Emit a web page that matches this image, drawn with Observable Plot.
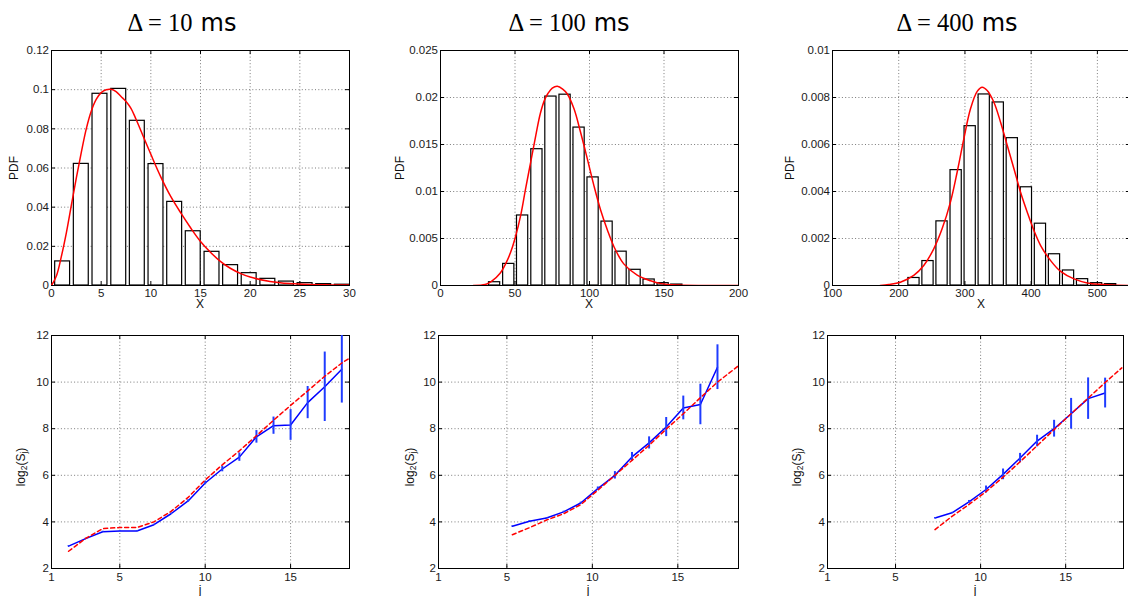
<!DOCTYPE html>
<html><head><meta charset="utf-8">
<script src="https://cdn.jsdelivr.net/npm/d3@7"></script>
<script src="https://cdn.jsdelivr.net/npm/@observablehq/plot@0.6"></script>
<style>
html,body{margin:0;padding:0;background:#fff;overflow:hidden;}
#root{position:relative;width:1128px;height:596px;overflow:hidden;font-family:"Liberation Sans",Arial,Helvetica,sans-serif;color:#111;}
.title{position:absolute;white-space:nowrap;transform:translate(-50%,0);line-height:30px;color:#000;}
.title .m{font-family:"Liberation Serif","Times New Roman",serif;font-size:24.5px;}
.title .u{font-family:"DejaVu Sans",sans-serif;font-size:24px;margin-left:8px;}
.lab{position:absolute;font-size:12px;line-height:14px;white-space:nowrap;color:#111;}
.lab.j{line-height:12px;}
.lab sub{font-size:8.5px;vertical-align:-2px;line-height:0;}
</style></head><body><div id="root"></div><script>
// ---------- data ----------
const titleValues = ["10", "100", "400"];
const titleUnit = "ms";

// histograms (bin centers, PDF heights)
const hist10Centers = [1.12, 3.0, 4.88, 6.77, 8.64, 10.52, 12.4, 14.27, 16.16, 18.03, 19.9, 21.78, 23.65, 25.53, 27.4, 29.28];
const hist10Values  = [0.0123, 0.0621, 0.0979, 0.1004, 0.0841, 0.0620, 0.0427, 0.0277, 0.0172, 0.0104, 0.0063, 0.0034, 0.0020, 0.0012, 0.0007, 0.0004];
const hist100Centers = [36.3, 45.8, 55.1, 64.7, 74.1, 83.6, 93.0, 102.4, 111.8, 121.2, 130.6, 140.0, 149.4, 158.6];
const hist100Values  = [0.00035, 0.0023, 0.00745, 0.0145, 0.0201, 0.0203, 0.0168, 0.0115, 0.0068, 0.0036, 0.00167, 0.00064, 0.00025, 0.0001];
const hist400Centers = [223.0, 244.2, 265.4, 286.7, 307.9, 329.1, 350.3, 371.5, 392.8, 414.0, 435.2, 456.4, 477.6, 498.8, 520.0];
const hist400Values  = [0.00032, 0.00104, 0.00273, 0.00491, 0.00678, 0.00813, 0.00779, 0.00627, 0.00418, 0.00263, 0.00133, 0.00064, 0.00027, 0.0001, 0.00006];

// fitted PDF curves
const pdf10X = [0, 0.5, 1, 1.5, 2, 2.5, 3, 3.5, 4, 4.5, 5, 5.5, 6, 6.5, 7, 7.5, 8, 8.5, 9, 10, 11, 12, 13, 14, 15, 16, 17, 18, 19, 20, 22, 24, 26, 28, 30];
const pdf10Y = [0, 0.005, 0.015, 0.027, 0.041, 0.055, 0.068, 0.080, 0.089, 0.095, 0.0985, 0.1, 0.1002, 0.099, 0.0965, 0.094, 0.0905, 0.085, 0.079, 0.067, 0.0555, 0.0455, 0.0372, 0.0295, 0.0225, 0.017, 0.0123, 0.0088, 0.0062, 0.0043, 0.0021, 0.001, 0.0005, 0.0003, 0.0002];
const pdf100X = [22, 30, 34, 40, 44, 47, 50, 54, 57, 60.5, 64, 67, 70, 72, 75, 78.4, 82, 85, 89.6, 94, 98.5, 103, 107.5, 112, 116.5, 123, 132, 141, 148, 160, 175, 200];
const pdf100Y = [0, 0.0001, 0.0004, 0.0013, 0.0024, 0.0035, 0.0050, 0.0076, 0.0102, 0.0131, 0.016, 0.0183, 0.0198, 0.0204, 0.0210, 0.0212, 0.0209, 0.0204, 0.0188, 0.0163, 0.0135, 0.0106, 0.008, 0.0059, 0.0041, 0.0023, 0.0011, 0.0005, 0.0002, 0.00005, 0, 0];
const pdf400X = [172, 185, 202.5, 222.7, 237.8, 252.9, 265.5, 278.1, 288.2, 298.3, 308.4, 318.5, 326, 333.6, 343.7, 353.8, 363.9, 374, 384, 394.1, 404.2, 414.3, 429.4, 444.5, 464.7, 484.8, 515, 550];
const pdf400Y = [0, 0.00004, 0.00014, 0.00043, 0.00085, 0.00156, 0.00241, 0.00355, 0.00482, 0.00624, 0.00752, 0.00826, 0.00844, 0.0083, 0.0078, 0.00695, 0.00596, 0.00497, 0.00397, 0.00312, 0.00234, 0.0017, 0.00106, 0.0006, 0.00028, 0.00011, 0.00003, 0];

// log-scale diagram: octave j, log2(S_j), error half-length, and fit
const j10 = [2, 3, 4, 5, 6, 7, 8, 9, 10, 11, 12, 13, 14, 15, 16, 17, 18];
const logS10 = [2.96, 3.28, 3.58, 3.61, 3.61, 3.88, 4.35, 4.9, 5.67, 6.27, 6.78, 7.65, 8.13, 8.16, 9.12, 9.8, 10.55];
const err10 = [0.02, 0.02, 0.02, 0.02, 0.02, 0.02, 0.03, 0.05, 0.07, 0.12, 0.18, 0.27, 0.37, 0.66, 0.69, 1.49, 1.45];
const fit10X = [2, 3, 4, 5, 6, 7, 8, 9, 10, 11, 12, 13, 14, 15, 16, 17, 18, 18.4];
const fit10Y = [2.74, 3.29, 3.71, 3.76, 3.76, 4.0, 4.45, 5.05, 5.8, 6.45, 7.05, 7.7, 8.36, 9.0, 9.62, 10.25, 10.82, 11.0];

const j100 = [5.32, 6.32, 7.32, 8.32, 9.32, 10.32, 11.32, 12.32, 13.32, 14.32, 15.32, 16.32, 17.32];
const logS100 = [3.81, 4.03, 4.17, 4.43, 4.81, 5.43, 6.0, 6.79, 7.39, 8.07, 8.89, 9.04, 10.64];
const err100 = [0.02, 0.02, 0.02, 0.03, 0.04, 0.07, 0.16, 0.19, 0.26, 0.41, 0.51, 0.87, 0.96];
const fit100X = [5.32, 6.32, 7.32, 8.32, 9.32, 10.32, 11.32, 12.32, 13.32, 14.32, 15.32, 16.32, 17.32, 18.55];
const fit100Y = [3.45, 3.75, 4.08, 4.35, 4.74, 5.36, 6.0, 6.64, 7.29, 7.98, 8.64, 9.33, 10.0, 10.7];

const j400 = [7.32, 8.32, 9.32, 10.32, 11.32, 12.32, 13.32, 14.32, 15.32, 16.32, 17.32];
const logS400 = [4.17, 4.39, 4.86, 5.39, 6.04, 6.74, 7.47, 8.0, 8.64, 9.29, 9.53];
const err400 = [0.02, 0.02, 0.06, 0.15, 0.23, 0.2, 0.25, 0.36, 0.66, 0.89, 0.64];
const fit400X = [7.32, 8.32, 9.32, 10.32, 11.32, 12.32, 13.32, 14.32, 15.32, 16.32, 17.32, 18.3];
const fit400Y = [3.67, 4.24, 4.75, 5.3, 5.92, 6.58, 7.27, 7.96, 8.64, 9.31, 9.98, 10.61];

// tick labels
const xTicks10 = [0, 5, 10, 15, 20, 25, 30];
const yTicks10 = [0, 0.02, 0.04, 0.06, 0.08, 0.1, 0.12];
const xTicks100 = [0, 50, 100, 150, 200];
const yTicks100 = [0, 0.005, 0.01, 0.015, 0.02, 0.025];
const xTicks400 = [100, 200, 300, 400, 500];
const yTicks400 = [0, 0.002, 0.004, 0.006, 0.008, 0.01];
const jTicks = [1, 5, 10, 15];
const logTicks = [2, 4, 6, 8, 10, 12];

// ---------- drawing ----------
const root = document.getElementById("root");
const fmt = d => String(+(+d).toFixed(6));
const FONT = "'Liberation Sans', Arial, Helvetica, sans-serif";

function matlabAxes(xTicks, yTicks, fw, fh, xPad) {
  const grid = {stroke: "#7a7a7a", strokeOpacity: 1, strokeWidth: 1, strokeDasharray: "1,2.3"};
  return {
    grid: [Plot.gridX(xTicks, grid), Plot.gridY(yTicks, grid)],
    axes: [
      Plot.axisX(xTicks, {anchor: "bottom", tickSize: 0, tickPadding: xPad, tickFormat: fmt, label: null, fill: "#1a1a1a"}),
      Plot.axisY(yTicks, {anchor: "left", tickSize: 0, tickPadding: 2.5, tickFormat: fmt, label: null, fill: "#1a1a1a"}),
      Plot.ruleX(xTicks, {insetTop: fh - 4, stroke: "#000"}),
      Plot.ruleX(xTicks, {insetBottom: fh - 4, stroke: "#000"}),
      Plot.ruleY(yTicks, {insetRight: fw - 4, stroke: "#000"}),
      Plot.ruleY(yTicks, {insetLeft: fw - 4, stroke: "#000"}),
      Plot.frame({stroke: "#000", strokeWidth: 1})
    ]
  };
}

function histPanel(c) {
  const step = (c.centers[c.centers.length - 1] - c.centers[0]) / (c.centers.length - 1);
  const half = 0.4 * step;
  const bars = c.centers.map((x, i) => ({x1: x - half, x2: x + half, y: c.values[i]}));
  const curve = c.curveX.map((x, i) => ({x, y: c.curveY[i]}));
  const ax = matlabAxes(c.xTicks, c.yTicks, c.fw, c.fh, 3.5);
  return Plot.plot({
    width: c.ml + c.fw + c.mr, height: c.mt + c.fh + c.mb,
    marginLeft: c.ml, marginRight: c.mr, marginTop: c.mt, marginBottom: c.mb,
    x: {domain: c.xDomain}, y: {domain: c.yDomain},
    style: {fontFamily: FONT, fontSize: "11.5px", background: "transparent", overflow: "visible", color: "#1a1a1a"},
    marks: [
      ...ax.grid,
      Plot.rectY(bars, {x1: "x1", x2: "x2", y: "y", fill: "white", stroke: "#000", strokeWidth: 1.2, clip: true}),
      ...ax.axes,
      Plot.line(curve, {x: "x", y: "y", stroke: "#ff0000", strokeWidth: 1.5, curve: "catmull-rom", clip: true})
    ]
  });
}

function logPanel(c) {
  const pts = c.j.map((x, i) => ({x, y: c.logS[i], e: c.err[i]}));
  const fit = c.fitX.map((x, i) => ({x, y: c.fitY[i]}));
  const ax = matlabAxes(jTicks, logTicks, c.fw, c.fh, 4.5);
  return Plot.plot({
    width: c.ml + c.fw + c.mr, height: c.mt + c.fh + c.mb,
    marginLeft: c.ml, marginRight: c.mr, marginTop: c.mt, marginBottom: c.mb,
    x: {domain: c.xDomain}, y: {domain: [2, 12]},
    style: {fontFamily: FONT, fontSize: "11.5px", background: "transparent", overflow: "visible", color: "#1a1a1a"},
    marks: [
      ...ax.grid,
      ...ax.axes,
      Plot.line(pts, {x: "x", y: "y", stroke: "#0000ff", strokeWidth: 1.5, clip: true}),
      Plot.ruleX(pts, {x: "x", y1: d => d.y - d.e, y2: d => d.y + d.e, stroke: "#1f3cff", strokeWidth: 2, clip: true}),
      Plot.line(fit, {x: "x", y: "y", stroke: "#ff0000", strokeWidth: 1.5, strokeDasharray: "4,3", clip: true})
    ]
  });
}

function place(node, left, top) {
  node.style.position = "absolute";
  node.style.left = left + "px";
  node.style.top = top + "px";
  root.appendChild(node);
}
function label(html, cx, cy, rot, cls) {
  const d = document.createElement("div");
  d.className = "lab" + (cls ? " " + cls : "");
  d.innerHTML = html;
  d.style.left = cx + "px";
  d.style.top = cy + "px";
  d.style.transform = "translate(-50%,-50%)" + (rot ? " rotate(-90deg)" : "");
  root.appendChild(d);
}

// top row: histograms
const topRow = [
  {left: 0, ml: 51, fw: 298, centers: hist10Centers, values: hist10Values, curveX: pdf10X, curveY: pdf10Y, xDomain: [0, 30], yDomain: [0, 0.12], xTicks: xTicks10, yTicks: yTicks10, pdfX: 14},
  {left: 390, ml: 50, fw: 298, centers: hist100Centers, values: hist100Values, curveX: pdf100X, curveY: pdf100Y, xDomain: [0, 200], yDomain: [0, 0.025], xTicks: xTicks100, yTicks: yTicks100, pdfX: 400},
  {left: 782, ml: 50, fw: 298, centers: hist400Centers, values: hist400Values, curveX: pdf400X, curveY: pdf400Y, xDomain: [100, 550], yDomain: [0, 0.01], xTicks: xTicks400, yTicks: yTicks400, pdfX: 790}
];
topRow.forEach(p => {
  const svg = histPanel({...p, mr: 8, mt: 10, mb: 30, fh: 235});
  place(svg, p.left, 40);
  label("X", p.left + p.ml + p.fw / 2, 304, false);
  label("PDF", p.pdfX, 168, true);
});

// bottom row: log-scale diagrams
const botRow = [
  {left: 0, ml: 51, fw: 298, j: j10, logS: logS10, err: err10, fitX: fit10X, fitY: fit10Y, xDomain: [1, 18.45], labX: 21},
  {left: 388, ml: 50, fw: 300, j: j100, logS: logS100, err: err100, fitX: fit100X, fitY: fit100Y, xDomain: [1, 18.55], labX: 410},
  {left: 777, ml: 50, fw: 296, j: j400, logS: logS400, err: err400, fitX: fit400X, fitY: fit400Y, xDomain: [1, 18.4], labX: 797}
];
botRow.forEach(p => {
  const svg = logPanel({...p, mr: 8, mt: 10, mb: 28, fh: 233});
  place(svg, p.left, 325);
  label("j", p.left + p.ml + p.fw / 2, 590, false, "j");
  label("log<sub>2</sub>(S<sub>j</sub>)", p.labX, 467, true);
});

// titles
const titleCenters = [182, 569, 957];
titleValues.forEach((v, i) => {
  const d = document.createElement("div");
  d.className = "title";
  d.innerHTML = `<span class="m">Δ = ${v}</span><span class="u">${titleUnit}</span>`;
  d.style.left = titleCenters[i] + "px";
  d.style.top = "8px";
  root.appendChild(d);
});
</script></body></html>
